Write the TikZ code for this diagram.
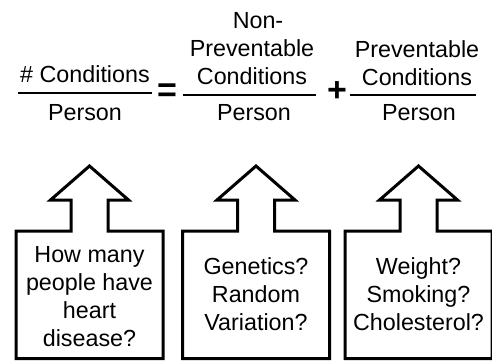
\documentclass[tikz,border=0pt]{standalone}
\usepackage{fontspec}
\setmainfont{Liberation Sans}
\usetikzlibrary{calc}

\tikzset{
  txt/.style={inner sep=0pt, font=\fontsize{23.3}{28}\selectfont},
  op/.style={inner sep=0pt, font=\fontsize{34}{34}\selectfont\bfseries},
  bar/.style={line width=2pt},
  callout/.style={line width=3pt, line join=miter, miter limit=10},
}

% centred lines stacked 28pt apart; baseline at the last line
\newcommand\linestack[1]{\begin{tabular}[b]{@{}c@{}}#1\end{tabular}}

% box with an upward block arrow on top, around the centre coordinate #1
\newcommand\drawcallout[1]{%
  \draw[callout]
    ($(#1)+(-73.5,63.75)$) -- ($(#1)+(-73.5,-63.75)$)
    -- ($(#1)+(-18.5,-63.75)$) -- ($(#1)+(-18.5,-94.75)$)
    -- ($(#1)+(-39,-94.75)$) -- ($(#1)+(0,-128.75)$)
    -- ($(#1)+(39,-94.75)$) -- ($(#1)+(18.5,-94.75)$)
    -- ($(#1)+(18.5,-63.75)$) -- ($(#1)+(73.5,-63.75)$)
    -- ($(#1)+(73.5,63.75)$) -- cycle;}

\begin{document}
\begin{tikzpicture}[x=1pt, y=-1pt]
\useasboundingbox (0,0) rectangle (492,360);

% equation
\node[txt, anchor=base] (n1) at (85,82) {\# Conditions};
\node[txt, anchor=base] (d1) at (85,120) {Person};
\draw[bar] (18,92.5) -- (152,92.5);

\node[op] (eq) at (167,92.5) {=};

\node[txt, anchor=base] (n2) at (252,84) {\linestack{\hspace*{12pt}Non-\\Preventable\\Conditions}};
\node[txt, anchor=base] (d2) at (254,120) {Person};
\draw[bar] (183,94.5) -- (316,94.5);

\node[op] (pl) at (337,91.5) {+};

\node[txt, anchor=base] (n3) at (417,85) {\linestack{Preventable\\Conditions}};
\node[txt, anchor=base] (d3) at (419,120) {Person};
\draw[bar] (350,95) -- (476,95);

% question callouts
\coordinate (c1) at (89.5,294.75);
\coordinate (c2) at (256,294.75);
\coordinate (c3) at (418.5,294.75);

\drawcallout{c1}
\drawcallout{c2}
\drawcallout{c3}

\node[txt, yshift=-4.5pt] (q1) at (c1) {\linestack{How many\\people have\\heart\\disease?}};
\node[txt, yshift=-2.6pt] (q2) at (c2) {\linestack{Genetics?\\Random\\Variation?}};
\node[txt, yshift=-2.6pt] (q3) at (c3) {\linestack{Weight?\\Smoking?\\Cholesterol?}};
\end{tikzpicture}
\end{document}
